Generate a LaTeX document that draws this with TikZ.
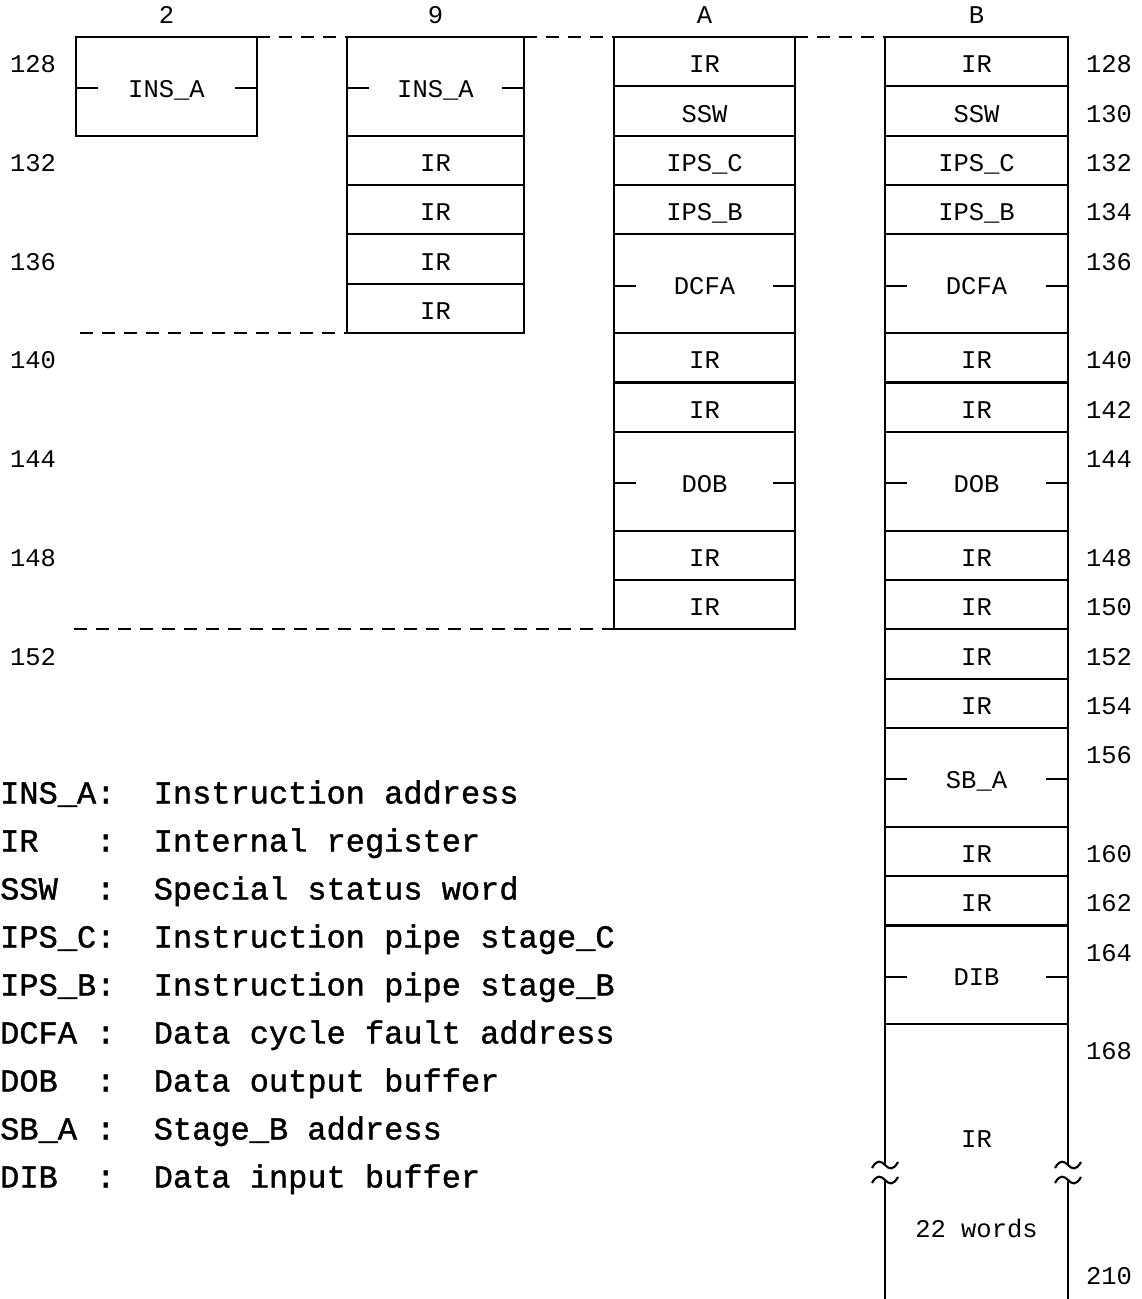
\documentclass[tikz,border=0pt]{standalone}
\usepackage{fontspec}
\usetikzlibrary{calc}
\newfontfamily\boxmono{Liberation Mono}
\newfontfamily\legmono[FakeBold=1.2]{Liberation Mono}
\newcommand\boxfont{\boxmono\fontsize{25.5pt}{30pt}\selectfont}
\newcommand\legfont{\legmono\fontsize{32pt}{38pt}\selectfont}
\tikzset{
  cellbox/.style={draw, line width=2.1pt, rectangle, inner sep=0pt, outer sep=0pt,
    font=\boxfont, text height=22.2pt, text depth=0pt},
  lbl/.style={inner sep=0pt, font=\boxfont, text height=22.2pt, text depth=0pt},
  leg/.style={inner sep=0pt, anchor=west, font=\legfont, text height=21pt, text depth=0pt},
  dashline/.style={line width=2.1pt, dash pattern=on 13pt off 9pt},
  edgeline/.style={line width=2.1pt},
  tickline/.style={line width=2.1pt}
}
\newcommand\mkcell[6]{\node[cellbox, minimum width=#3pt, minimum height={(#5-#4)*24.68pt}] (#1) at (#2,{37+((#4+#5)/2-128)*24.68}) {#6};}
\newcommand\mkticks[1]{\draw[tickline] ([yshift=-2pt]#1.west) -- ++(22,0); \draw[tickline] ([yshift=-2pt]#1.east) -- ++(-22,0);}
\newcommand\brk[1]{\draw[edgeline] ($(#1)+(-13,3)$) .. controls ($(#1)+(-8,-6)$) and ($(#1)+(-4,-4)$) .. (#1) .. controls ($(#1)+(4,4)$) and ($(#1)+(8,6)$) .. ($(#1)+(13,-3)$);}
\newcommand\lnum[3]{\node[lbl] (#1) at (#2,{37+(#3-128)*24.68+24.68}) {#3};}
\begin{document}
\begin{tikzpicture}[x=1pt,y=-1pt]
\useasboundingbox (0,0) rectangle (1141,1299);
% headers
\node[lbl] (h2) at (166.5,12.5) {2};
\node[lbl] (h9) at (435.5,12.5) {9};
\node[lbl] (hA) at (704.5,12.5) {A};
\node[lbl] (hB) at (976.5,12.5) {B};
% column 2
\mkcell{c2a}{166.5}{181}{128}{132}{INS\_A}
% column 9
\mkcell{c9a}{435.5}{177}{128}{132}{INS\_A}
\mkcell{c9b}{435.5}{177}{132}{134}{IR}
\mkcell{c9c}{435.5}{177}{134}{136}{IR}
\mkcell{c9d}{435.5}{177}{136}{138}{IR}
\mkcell{c9e}{435.5}{177}{138}{140}{IR}
% column A
\mkcell{a1}{704.5}{181}{128}{130}{IR}
\mkcell{a2}{704.5}{181}{130}{132}{SSW}
\mkcell{a3}{704.5}{181}{132}{134}{IPS\_C}
\mkcell{a4}{704.5}{181}{134}{136}{IPS\_B}
\mkcell{a5}{704.5}{181}{136}{140}{DCFA}
\mkcell{a6}{704.5}{181}{140}{142}{IR}
\mkcell{a7}{704.5}{181}{142}{144}{IR}
\mkcell{a8}{704.5}{181}{144}{148}{DOB}
\mkcell{a9}{704.5}{181}{148}{150}{IR}
\mkcell{a10}{704.5}{181}{150}{152}{IR}
% column B
\mkcell{b1}{976.5}{183}{128}{130}{IR}
\mkcell{b2}{976.5}{183}{130}{132}{SSW}
\mkcell{b3}{976.5}{183}{132}{134}{IPS\_C}
\mkcell{b4}{976.5}{183}{134}{136}{IPS\_B}
\mkcell{b5}{976.5}{183}{136}{140}{DCFA}
\mkcell{b6}{976.5}{183}{140}{142}{IR}
\mkcell{b7}{976.5}{183}{142}{144}{IR}
\mkcell{b8}{976.5}{183}{144}{148}{DOB}
\mkcell{b9}{976.5}{183}{148}{150}{IR}
\mkcell{b10}{976.5}{183}{150}{152}{IR}
\mkcell{b11}{976.5}{183}{152}{154}{IR}
\mkcell{b12}{976.5}{183}{154}{156}{IR}
\mkcell{b13}{976.5}{183}{156}{160}{SB\_A}
\mkcell{b14}{976.5}{183}{160}{162}{IR}
\mkcell{b15}{976.5}{183}{162}{164}{IR}
\mkcell{b16}{976.5}{183}{164}{168}{DIB}
% ticks
\mkticks{c2a}\mkticks{c9a}\mkticks{a5}\mkticks{a8}
\mkticks{b5}\mkticks{b8}\mkticks{b13}\mkticks{b16}
% open last cell of B with breaks
\coordinate (lu) at (885,1165);
\coordinate (ll) at (885,1180);
\coordinate (lb) at (885,1299);
\coordinate (ru) at (1068,1165);
\coordinate (rl) at (1068,1180);
\coordinate (rb) at (1068,1299);
\draw[edgeline] (b16.south west) -- (lu);
\draw[edgeline] (ll) -- (lb);
\draw[edgeline] (b16.south east) -- (ru);
\draw[edgeline] (rl) -- (rb);
\brk{lu}\brk{ll}\brk{ru}\brk{rl}
\node[lbl] (bir) at (976.5,1136.5) {IR};
\node[lbl] (bwords) at (976.5,1226.5) {22 words};
% dashed lines
\draw[dashline] (c2a.north east) -- (c9a.north west);
\draw[dashline] (c9a.north east) -- (a1.north west);
\draw[dashline] (a1.north east) -- (b1.north west);
\coordinate (d1) at (80,{37+12*24.68});
\coordinate (d2) at (74,{37+24*24.68});
\draw[dashline] (d1) -- (c9e.south west);
\draw[dashline] (d2) -- (a10.south west);
% left numbers
\lnum{nl128}{33}{128}
\lnum{nl132}{33}{132}
\lnum{nl136}{33}{136}
\lnum{nl140}{33}{140}
\lnum{nl144}{33}{144}
\lnum{nl148}{33}{148}
\lnum{nl152}{33}{152}
% right numbers
\lnum{nr128}{1109}{128}
\lnum{nr130}{1109}{130}
\lnum{nr132}{1109}{132}
\lnum{nr134}{1109}{134}
\lnum{nr136}{1109}{136}
\lnum{nr140}{1109}{140}
\lnum{nr142}{1109}{142}
\lnum{nr144}{1109}{144}
\lnum{nr148}{1109}{148}
\lnum{nr150}{1109}{150}
\lnum{nr152}{1109}{152}
\lnum{nr154}{1109}{154}
\lnum{nr156}{1109}{156}
\lnum{nr160}{1109}{160}
\lnum{nr162}{1109}{162}
\lnum{nr164}{1109}{164}
\lnum{nr168}{1109}{168}
\node[lbl] (nr210) at (1109,1273.5) {210};
% legend
\node[leg] (l1) at (0,793)  {\makebox[3em][l]{INS\_A}:\hspace{1.2em}Instruction address};
\node[leg] (l2) at (0,841)  {\makebox[3em][l]{IR}:\hspace{1.2em}Internal register};
\node[leg] (l3) at (0,889)  {\makebox[3em][l]{SSW}:\hspace{1.2em}Special status word};
\node[leg] (l4) at (0,937)  {\makebox[3em][l]{IPS\_C}:\hspace{1.2em}Instruction pipe stage\_C};
\node[leg] (l5) at (0,985)  {\makebox[3em][l]{IPS\_B}:\hspace{1.2em}Instruction pipe stage\_B};
\node[leg] (l6) at (0,1033) {\makebox[3em][l]{DCFA}:\hspace{1.2em}Data cycle fault address};
\node[leg] (l7) at (0,1081) {\makebox[3em][l]{DOB}:\hspace{1.2em}Data output buffer};
\node[leg] (l8) at (0,1129) {\makebox[3em][l]{SB\_A}:\hspace{1.2em}Stage\_B address};
\node[leg] (l9) at (0,1177) {\makebox[3em][l]{DIB}:\hspace{1.2em}Data input buffer};
\end{tikzpicture}
\end{document}
